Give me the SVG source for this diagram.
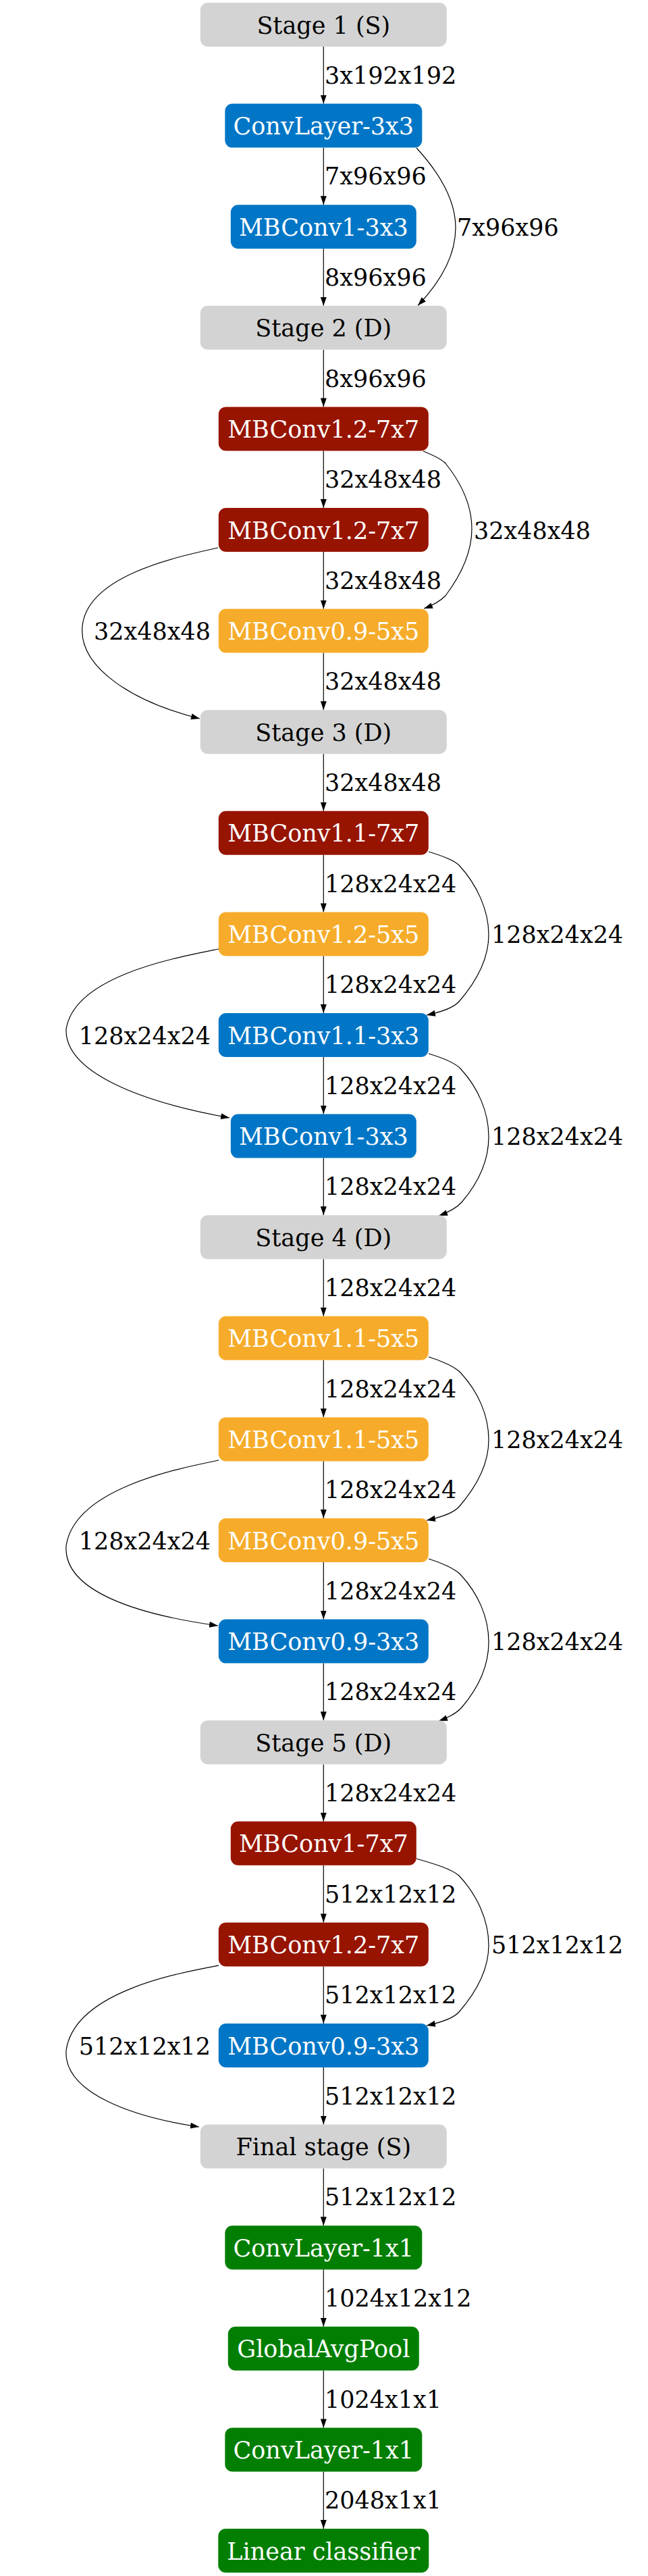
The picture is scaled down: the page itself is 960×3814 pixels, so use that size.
<svg xmlns="http://www.w3.org/2000/svg" width="960" height="3814" viewBox="0 0 960 3814">
<style>
text{font-family:"DejaVu Serif","Liberation Serif",serif;font-size:35px}
.n text{text-anchor:middle}
.w{fill:#ffffff}
.k{fill:#000000}
.gray{fill:#d3d3d3}
.blue{fill:#0176c6}
.red{fill:#971400}
.orange{fill:#f6ac2a}
.green{fill:#027f02}
.e line,.e path{stroke:#000;stroke-width:1.2;fill:none;marker-end:url(#arr)}
.lbl{fill:#000}
.end{text-anchor:end}
</style>
<defs>
<marker id="arr" markerUnits="userSpaceOnUse" markerWidth="14" markerHeight="10" refX="13" refY="4.5" orient="auto">
<path d="M0,0 L13,4.5 L0,9 z" fill="#000"/>
</marker>
</defs>
<rect width="960" height="3814" fill="#fff"/>
<g id="edges" class="e">
<line x1="479.3" y1="69" x2="479.3" y2="153.6"/>
<line x1="479.3" y1="218.6" x2="479.3" y2="303.2"/>
<line x1="479.3" y1="368.2" x2="479.3" y2="452.8"/>
<line x1="479.3" y1="517.8" x2="479.3" y2="602.4"/>
<line x1="479.3" y1="667.4" x2="479.3" y2="752"/>
<line x1="479.3" y1="817" x2="479.3" y2="901.6"/>
<line x1="479.3" y1="966.6" x2="479.3" y2="1051.2"/>
<line x1="479.3" y1="1116.2" x2="479.3" y2="1200.8"/>
<line x1="479.3" y1="1265.8" x2="479.3" y2="1350.4"/>
<line x1="479.3" y1="1415.4" x2="479.3" y2="1500"/>
<line x1="479.3" y1="1565" x2="479.3" y2="1649.6"/>
<line x1="479.3" y1="1714.6" x2="479.3" y2="1799.2"/>
<line x1="479.3" y1="1864.2" x2="479.3" y2="1948.8"/>
<line x1="479.3" y1="2013.8" x2="479.3" y2="2098.4"/>
<line x1="479.3" y1="2163.4" x2="479.3" y2="2248"/>
<line x1="479.3" y1="2313" x2="479.3" y2="2397.6"/>
<line x1="479.3" y1="2462.6" x2="479.3" y2="2547.2"/>
<line x1="479.3" y1="2612.2" x2="479.3" y2="2696.8"/>
<line x1="479.3" y1="2761.8" x2="479.3" y2="2846.4"/>
<line x1="479.3" y1="2911.4" x2="479.3" y2="2996"/>
<line x1="479.3" y1="3061" x2="479.3" y2="3145.6"/>
<line x1="479.3" y1="3210.6" x2="479.3" y2="3295.2"/>
<line x1="479.3" y1="3360.2" x2="479.3" y2="3444.8"/>
<line x1="479.3" y1="3509.8" x2="479.3" y2="3594.4"/>
<line x1="479.3" y1="3659.4" x2="479.3" y2="3744"/>
<path d="M617,219 C650,255 675,295 675,337 C675,380 650,420 619,452.5"/>
<path d="M627,668 C642,674 653,679 660,686 C684,716 699,748 699,783 C699,818 684,850 660,882 C652,890 642,896 628,901"/>
<path d="M635,1261 C655,1267 672,1273 680,1281 C706,1309 724,1347 724,1384 C724,1420 706,1453 680,1483 C672,1492 655,1498 632,1503"/>
<path d="M635,1560 C655,1566 674,1574 682,1582 C708,1610 724,1646 724,1683 C724,1720 708,1752 684,1780 C676,1789 664,1795 650,1800"/>
<path d="M635,2009 C655,2015 674,2024 682,2032 C708,2060 724,2095 724,2132 C724,2168 706,2201 680,2231 C672,2240 655,2246 632,2251"/>
<path d="M635,2308 C655,2314 674,2323 682,2331 C708,2359 724,2394 724,2431 C724,2468 708,2500 684,2528 C676,2537 664,2543 650,2548"/>
<path d="M617,2752 C645,2760 668,2767 680,2777 C706,2805 724,2842 724,2880 C724,2916 706,2949 680,2979 C672,2988 655,2994 632,2999"/>
<path d="M323,811 C270,823 130,850 122,927 C116,990 200,1040 296,1064"/>
<path d="M324,1405 C260,1418 110,1445 98,1524 C96,1585 200,1630 340,1655"/>
<path d="M324,2162 C260,2175 110,2205 98,2289 C94,2355 200,2390 323,2407"/>
<path d="M324,2910 C260,2922 110,2950 98,3036 C94,3100 200,3135 295,3149"/>
</g>
<g id="edge-labels" class="lbl">
<text x="481" y="123.8">3x192x192</text>
<text x="481" y="273.4">7x96x96</text>
<text x="481" y="423">8x96x96</text>
<text x="481" y="572.6">8x96x96</text>
<text x="481" y="722.2">32x48x48</text>
<text x="481" y="871.8">32x48x48</text>
<text x="481" y="1021.4">32x48x48</text>
<text x="481" y="1171">32x48x48</text>
<text x="481" y="1320.6">128x24x24</text>
<text x="481" y="1470.2">128x24x24</text>
<text x="481" y="1619.8">128x24x24</text>
<text x="481" y="1769.4">128x24x24</text>
<text x="481" y="1919">128x24x24</text>
<text x="481" y="2068.6">128x24x24</text>
<text x="481" y="2218.2">128x24x24</text>
<text x="481" y="2367.8">128x24x24</text>
<text x="481" y="2517.4">128x24x24</text>
<text x="481" y="2667">128x24x24</text>
<text x="481" y="2816.6">512x12x12</text>
<text x="481" y="2966.2">512x12x12</text>
<text x="481" y="3115.8">512x12x12</text>
<text x="481" y="3265.4">512x12x12</text>
<text x="481" y="3415">1024x12x12</text>
<text x="481" y="3564.6">1024x1x1</text>
<text x="481" y="3714.2">2048x1x1</text>
<text x="677" y="348.7">7x96x96</text>
<text x="702" y="797.5">32x48x48</text>
<text x="728" y="1395.9">128x24x24</text>
<text x="728" y="1695.1">128x24x24</text>
<text x="728" y="2143.9">128x24x24</text>
<text x="728" y="2443.1">128x24x24</text>
<text x="728" y="2891.9">512x12x12</text>
<text class="end" x="312" y="947.1">32x48x48</text>
<text class="end" x="312" y="1545.5">128x24x24</text>
<text class="end" x="312" y="2293.5">128x24x24</text>
<text class="end" x="312" y="3041.5">512x12x12</text>
</g>
<g id="n0" class="n"><rect class="gray" x="296.8" y="4" width="365" height="65" rx="11"/><text class="k" x="479.3" y="49.5">Stage 1 (S)</text></g>
<g id="n1" class="n"><rect class="blue" x="333.3" y="153.6" width="292" height="65" rx="11"/><text class="w" x="479.3" y="199.1">ConvLayer-3x3</text></g>
<g id="n2" class="n"><rect class="blue" x="341.8" y="303.2" width="275" height="65" rx="11"/><text class="w" x="479.3" y="348.7">MBConv1-3x3</text></g>
<g id="n3" class="n"><rect class="gray" x="296.8" y="452.8" width="365" height="65" rx="11"/><text class="k" x="479.3" y="498.3">Stage 2 (D)</text></g>
<g id="n4" class="n"><rect class="red" x="323.8" y="602.4" width="311" height="65" rx="11"/><text class="w" x="479.3" y="647.9">MBConv1.2-7x7</text></g>
<g id="n5" class="n"><rect class="red" x="323.8" y="752" width="311" height="65" rx="11"/><text class="w" x="479.3" y="797.5">MBConv1.2-7x7</text></g>
<g id="n6" class="n"><rect class="orange" x="323.8" y="901.6" width="311" height="65" rx="11"/><text class="w" x="479.3" y="947.1">MBConv0.9-5x5</text></g>
<g id="n7" class="n"><rect class="gray" x="296.8" y="1051.2" width="365" height="65" rx="11"/><text class="k" x="479.3" y="1096.7">Stage 3 (D)</text></g>
<g id="n8" class="n"><rect class="red" x="323.8" y="1200.8" width="311" height="65" rx="11"/><text class="w" x="479.3" y="1246.3">MBConv1.1-7x7</text></g>
<g id="n9" class="n"><rect class="orange" x="323.8" y="1350.4" width="311" height="65" rx="11"/><text class="w" x="479.3" y="1395.9">MBConv1.2-5x5</text></g>
<g id="n10" class="n"><rect class="blue" x="323.8" y="1500" width="311" height="65" rx="11"/><text class="w" x="479.3" y="1545.5">MBConv1.1-3x3</text></g>
<g id="n11" class="n"><rect class="blue" x="341.8" y="1649.6" width="275" height="65" rx="11"/><text class="w" x="479.3" y="1695.1">MBConv1-3x3</text></g>
<g id="n12" class="n"><rect class="gray" x="296.8" y="1799.2" width="365" height="65" rx="11"/><text class="k" x="479.3" y="1844.7">Stage 4 (D)</text></g>
<g id="n13" class="n"><rect class="orange" x="323.8" y="1948.8" width="311" height="65" rx="11"/><text class="w" x="479.3" y="1994.3">MBConv1.1-5x5</text></g>
<g id="n14" class="n"><rect class="orange" x="323.8" y="2098.4" width="311" height="65" rx="11"/><text class="w" x="479.3" y="2143.9">MBConv1.1-5x5</text></g>
<g id="n15" class="n"><rect class="orange" x="323.8" y="2248" width="311" height="65" rx="11"/><text class="w" x="479.3" y="2293.5">MBConv0.9-5x5</text></g>
<g id="n16" class="n"><rect class="blue" x="323.8" y="2397.6" width="311" height="65" rx="11"/><text class="w" x="479.3" y="2443.1">MBConv0.9-3x3</text></g>
<g id="n17" class="n"><rect class="gray" x="296.8" y="2547.2" width="365" height="65" rx="11"/><text class="k" x="479.3" y="2592.7">Stage 5 (D)</text></g>
<g id="n18" class="n"><rect class="red" x="341.8" y="2696.8" width="275" height="65" rx="11"/><text class="w" x="479.3" y="2742.3">MBConv1-7x7</text></g>
<g id="n19" class="n"><rect class="red" x="323.8" y="2846.4" width="311" height="65" rx="11"/><text class="w" x="479.3" y="2891.9">MBConv1.2-7x7</text></g>
<g id="n20" class="n"><rect class="blue" x="323.8" y="2996" width="311" height="65" rx="11"/><text class="w" x="479.3" y="3041.5">MBConv0.9-3x3</text></g>
<g id="n21" class="n"><rect class="gray" x="296.8" y="3145.6" width="365" height="65" rx="11"/><text class="k" x="479.3" y="3191.1">Final stage (S)</text></g>
<g id="n22" class="n"><rect class="green" x="333.3" y="3295.2" width="292" height="65" rx="11"/><text class="w" x="479.3" y="3340.7">ConvLayer-1x1</text></g>
<g id="n23" class="n"><rect class="green" x="337.8" y="3444.8" width="283" height="65" rx="11"/><text class="w" x="479.3" y="3490.3">GlobalAvgPool</text></g>
<g id="n24" class="n"><rect class="green" x="333.3" y="3594.4" width="292" height="65" rx="11"/><text class="w" x="479.3" y="3639.9">ConvLayer-1x1</text></g>
<g id="n25" class="n"><rect class="green" x="323.3" y="3744" width="312" height="65" rx="11"/><text class="w" x="479.3" y="3789.5">Linear classifier</text></g>
</svg>
